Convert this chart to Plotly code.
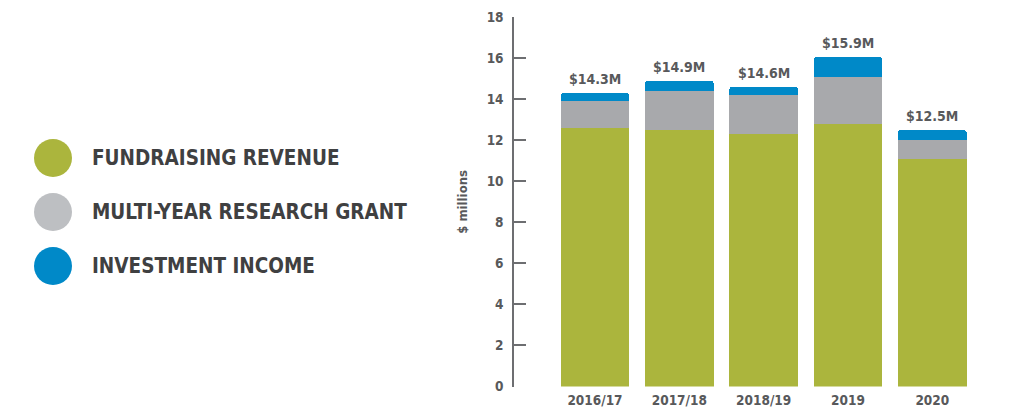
import plotly.graph_objects as go

categories = ["2016/17", "2017/18", "2018/19", "2019", "2020"]
fundraising = [12.6, 12.5, 12.3, 12.8, 11.1]
grant = [1.3, 1.9, 1.9, 2.3, 0.9]
investment = [0.4, 0.5, 0.4, 0.95, 0.5]
total_labels = ["$14.3M", "$14.9M", "$14.6M", "$15.9M", "$12.5M"]
y_ticks = [0, 2, 4, 6, 8, 10, 12, 14, 16, 18]
legend_names = ["FUNDRAISING REVENUE", "MULTI-YEAR RESEARCH GRANT", "INVESTMENT INCOME"]

GREEN = "#abb53d"
GRAY = "#a8a9ac"
BLUE = "#0089c8"
LEG_COLORS = ["#abb53d", "#bdbfc2", "#0089c8"]
TXT = "#58595b"
FONT = "DejaVu Sans Condensed, Liberation Sans Narrow, Arial Narrow, sans-serif"

OFF = 8  # page body margin
W, H = 1016, 411
fig = go.Figure()

for name, vals, col in [("Fundraising revenue", fundraising, GREEN),
                        ("Multi-year research grant", grant, GRAY),
                        ("Investment income", investment, BLUE)]:
    fig.add_trace(go.Bar(x=categories, y=vals, name=name, marker_color=col,
                         marker_line_width=0, showlegend=False, hoverinfo="x+y"))

totals = [f + g + i for f, g, i in zip(fundraising, grant, investment)]
for i, (t, lab) in enumerate(zip(totals, total_labels)):
    fig.add_annotation(x=i, y=t, text=lab, showarrow=False, yanchor="bottom",
                       yshift=4, xref="x", yref="y",
                       font=dict(family=FONT, size=14, color=TXT, weight="bold"))

# manual legend on a pixel-mapped auxiliary axis
leg_x = [53 - OFF] * len(legend_names)
leg_y = [158 - OFF, 212 - OFF, 266 - OFF]
fig.add_trace(go.Scatter(x=leg_x, y=leg_y, mode="markers", xaxis="x2", yaxis="y2",
                         marker=dict(size=38, color=LEG_COLORS, line_width=0),
                         showlegend=False, hoverinfo="skip"))
for yy, nm in zip(leg_y, legend_names):
    fig.add_annotation(x=90 - OFF, y=yy, text=nm, xref="x2", yref="y2", showarrow=False,
                       xanchor="left", yanchor="middle",
                       font=dict(family=FONT, size=20.5, color="#3f4041", weight="bold"))

x0, x1 = 514 - OFF, 1004 - OFF
y_bot, y_top = 386.5 - OFF, 17.3 - OFF
fig.update_layout(
    width=W, height=H,
    margin=dict(l=0, r=0, t=0, b=0, autoexpand=False),
    paper_bgcolor="white", plot_bgcolor="white",
    barmode="stack", bargap=0.185, barcornerradius=3,
    xaxis=dict(domain=[x0 / W, x1 / W], range=[-0.96, 4.85], type="category",
               showline=False, automargin=False,
               showgrid=False, zeroline=False, ticks="", ticklabelstandoff=4,
               tickfont=dict(family=FONT, size=13.5, color=TXT, weight="bold")),
    yaxis=dict(domain=[(H - y_bot) / H, (H - y_top) / H], range=[0, 18],
               tickvals=y_ticks, showgrid=False, zeroline=False, automargin=False,
               showline=True, linecolor="#6d6e71", linewidth=1.5,
               ticks="inside", ticklen=12, tickwidth=1.5, tickcolor="#6d6e71",
               ticklabelstandoff=6,
               tickfont=dict(family=FONT, size=13.5, color=TXT, weight="bold"),
               title=dict(text="$ millions", standoff=16,
                          font=dict(family=FONT, size=13, color=TXT, weight="bold"))),
    xaxis2=dict(domain=[0, 457 / W], range=[0, 457], visible=False, fixedrange=True),
    yaxis2=dict(domain=[0, 1], range=[H, 0], visible=False, fixedrange=True,
                anchor="x2"),
)

fig.write_html("out.html")
